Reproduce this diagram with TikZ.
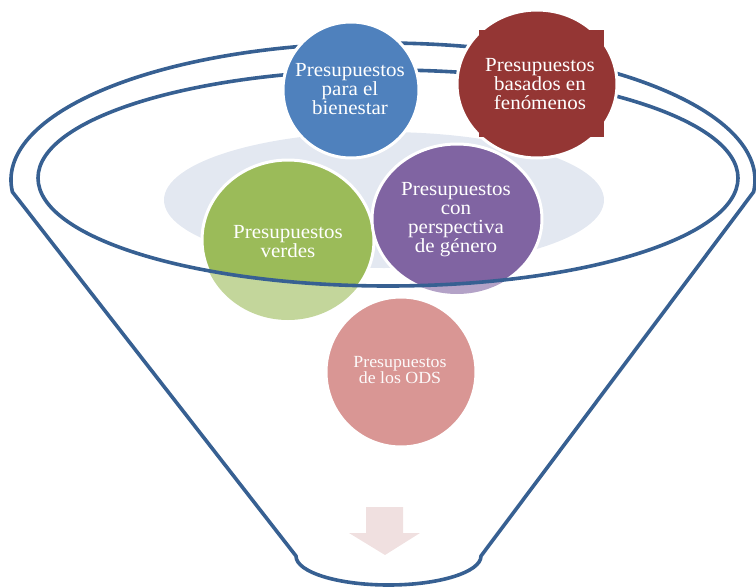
\documentclass[tikz,border=0pt]{standalone}
\usepackage{fontspec}
\setmainfont[FakeStretch=1.05]{Liberation Serif}
\definecolor{funnel}{HTML}{376092}
\definecolor{bgell}{HTML}{E3E8F1}
\definecolor{cblue}{HTML}{4F81BD}
\definecolor{cred}{HTML}{943634}
\definecolor{cgreen}{HTML}{9BBB59}
\definecolor{cgreenL}{HTML}{C3D69B}
\definecolor{cpurple}{HTML}{8064A2}
\definecolor{cpurpleL}{HTML}{B3A2C7}
\definecolor{cpink}{HTML}{D99694}
\definecolor{carrow}{HTML}{F0E0E0}
\begin{document}
\begin{tikzpicture}[x=1pt,y=-1pt,
  rim/.style={draw=funnel, line width=3.6pt, line join=round},
  bubble/.style={draw=white, line width=3pt},
  lbl/.style={text=white, align=center, inner sep=0pt, font=\fontsize{20}{19}\selectfont},
  lblsmall/.style={text=white!95!cpink, align=center, inner sep=0pt, font=\fontsize{17}{16.5}\selectfont}]
\useasboundingbox (0,0) rectangle (756,587);
% background ellipse
\fill[bgell] (384,200) ellipse[x radius=220, y radius=68];
% faded parts of green and purple
\fill[cgreenL] (288,240) ellipse[x radius=86, y radius=80];
\fill[cpurpleL] (457,219) ellipse[x radius=85, y radius=75];
\begin{scope}
  \clip (388,178) ellipse[x radius=350, y radius=108];
  \filldraw[bubble, fill=cgreen] (288,240) ellipse[x radius=86, y radius=80];
  \filldraw[bubble, fill=cpurple] (457,219) ellipse[x radius=85, y radius=75];
\end{scope}
% funnel
\draw[rim] (388,178) ellipse[x radius=350, y radius=108];
\draw[rim] ([shift={(383,180)}]175:372 and 137)
  arc[start angle=175, end angle=365, x radius=372, y radius=137]
  -- (481,556)
  arc[start angle=0, end angle=180, x radius=92.5, y radius=29]
  -- cycle;
% top bubbles
\filldraw[bubble, fill=cblue] (351,90) circle[radius=68];
\filldraw[bubble, fill=cred] (537,84) ellipse[x radius=80, y radius=74];
\fill[cred] (479,30) rectangle (604,137);
% bottom bubble
\filldraw[bubble, fill=cpink] (401,372) circle[radius=75];
% arrow
\fill[carrow] (366,507) -- (403,507) -- (403,533) -- (420,533) -- (385,555) -- (349,533) -- (366,533) -- cycle;
% labels
\node[lbl] (bien) at (350,89) {Presupuestos\\para el\\bienestar};
\node[lbl] (fen) at (540,84) {Presupuestos\\basados en\\fenómenos};
\node[lbl] (verd) at (288,242) {Presupuestos\\verdes};
\node[lbl] (gen) at (456,220) {Presupuestos\\con\\perspectiva\\de género};
\node[lblsmall] (ods) at (400,370) {Presupuestos\\de los ODS};
\end{tikzpicture}
\end{document}
